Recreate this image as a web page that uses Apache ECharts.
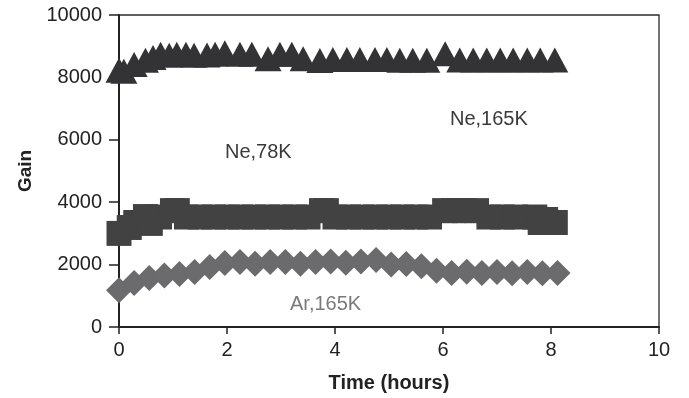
<!DOCTYPE html>
<html>
<head>
<meta charset="utf-8">
<script src="https://cdn.jsdelivr.net/npm/echarts@6/dist/echarts.min.js"></script>
<style>
html,body{margin:0;padding:0;background:#fff;}
#c{width:689px;height:398px;}
</style>
</head>
<body>
<div id="c"></div>
<script>
// ---- data ----
var xTicks = [0, 2, 4, 6, 8, 10];
var yTicks = [0, 2000, 4000, 6000, 8000, 10000];

var triTime = [0, 0.09, 0.28, 0.49, 0.63, 0.77, 0.93, 1.07, 1.24, 1.39, 1.63, 1.78, 1.96, 2.24, 2.46, 2.76, 2.98, 3.2, 3.41, 3.72, 3.96, 4.22, 4.46, 4.74, 4.96, 5.2, 5.44, 5.7, 6.04, 6.31, 6.56, 6.81, 7.06, 7.3, 7.56, 7.8, 8.07];
var triGain = [8230, 8200, 8410, 8550, 8640, 8740, 8710, 8740, 8740, 8710, 8720, 8740, 8790, 8740, 8740, 8600, 8740, 8740, 8600, 8540, 8570, 8570, 8570, 8570, 8570, 8550, 8550, 8550, 8760, 8560, 8560, 8560, 8560, 8560, 8560, 8560, 8560];

var sqTime = [0, 0.19, 0.31, 0.49, 0.58, 0.75, 0.99, 1.08, 1.25, 1.5, 1.75, 2.0, 2.25, 2.5, 2.75, 3.0, 3.25, 3.5, 3.75, 3.84, 4.0, 4.25, 4.5, 4.75, 5.0, 5.25, 5.5, 5.75, 6.03, 6.2, 6.4, 6.62, 6.85, 7.1, 7.35, 7.7, 7.8, 7.9, 8.08];
var sqGain = [3000, 3190, 3350, 3540, 3320, 3525, 3730, 3730, 3525, 3525, 3525, 3525, 3525, 3525, 3525, 3525, 3525, 3525, 3730, 3730, 3525, 3525, 3525, 3525, 3525, 3525, 3525, 3525, 3730, 3730, 3730, 3730, 3525, 3525, 3525, 3525, 3350, 3445, 3350];

var diaTime = [0, 0.28, 0.56, 0.84, 1.12, 1.4, 1.68, 1.96, 2.24, 2.52, 2.8, 3.08, 3.36, 3.64, 3.92, 4.2, 4.48, 4.76, 5.04, 5.32, 5.6, 5.88, 6.16, 6.44, 6.72, 7.0, 7.28, 7.56, 7.84, 8.12];
var diaGain = [1180, 1410, 1570, 1650, 1700, 1760, 1920, 2050, 2080, 2030, 2080, 2080, 2030, 2080, 2100, 2060, 2100, 2150, 2000, 2020, 1950, 1800, 1730, 1770, 1730, 1760, 1720, 1760, 1720, 1730];

var annotations = [
  {text: 'Ne,78K', color: '#3a3a3a'},
  {text: 'Ne,165K', color: '#3a3a3a'},
  {text: 'Ar,165K', color: '#7a7a7a'}
];

function pairs(t, v) { return t.map(function (x, i) { return [x, v[i]]; }); }

var FONT = 'Liberation Sans, Arial, sans-serif';
var chart = echarts.init(document.getElementById('c'), null, {renderer: 'canvas'});
chart.setOption({
  animation: false,
  backgroundColor: '#ffffff',
  grid: {left: 119, top: 15, width: 540, height: 312, show: true, borderColor: '#2a2a2a', borderWidth: 1.3, backgroundColor: 'transparent'},
  xAxis: {
    type: 'value', min: xTicks[0], max: xTicks[xTicks.length - 1], interval: 2,
    name: 'Time (hours)', nameLocation: 'middle', nameGap: 46,
    nameTextStyle: {fontFamily: FONT, fontSize: 20, fontWeight: 'bold', color: '#222'},
    axisLine: {show: true, onZero: false, lineStyle: {color: '#222', width: 2}},
    axisTick: {show: true, inside: false, length: 7, lineStyle: {color: '#222', width: 1.5}},
    axisLabel: {margin: 13, fontFamily: FONT, fontSize: 20, color: '#222'},
    splitLine: {show: false}
  },
  yAxis: {
    type: 'value', min: yTicks[0], max: yTicks[yTicks.length - 1], interval: 2000,
    name: 'Gain', nameLocation: 'middle', nameGap: 83, nameRotate: 90,
    nameTextStyle: {fontFamily: FONT, fontSize: 19, fontWeight: 'bold', color: '#222'},
    axisLine: {show: true, onZero: false, lineStyle: {color: '#222', width: 2}},
    axisTick: {show: true, inside: false, length: 10, lineStyle: {color: '#222', width: 1.5}},
    axisLabel: {margin: 17, fontFamily: FONT, fontSize: 20, color: '#222', formatter: function (v) { return String(v); }},
    splitLine: {show: false}
  },
  series: [
    {type: 'scatter', data: pairs(triTime, triGain), symbol: 'triangle', symbolSize: [27, 25],
     itemStyle: {color: '#333336', opacity: 1}, z: 3},
    {type: 'scatter', data: pairs(sqTime, sqGain), symbol: 'rect', symbolSize: [25, 25],
     itemStyle: {color: '#424242', opacity: 1}, z: 3},
    {type: 'scatter', data: pairs(diaTime, diaGain), symbol: 'diamond', symbolSize: [26, 26],
     itemStyle: {color: '#6b6b6d', opacity: 1}, z: 3}
  ],
  graphic: [
    {type: 'text', left: 225, top: 142, style: {text: annotations[0].text, fill: annotations[0].color, font: '20px ' + FONT}},
    {type: 'text', left: 450, top: 109, style: {text: annotations[1].text, fill: annotations[1].color, font: '20px ' + FONT}},
    {type: 'text', left: 290, top: 294, style: {text: annotations[2].text, fill: annotations[2].color, font: '20px ' + FONT}}
  ]
});
</script>
</body>
</html>
